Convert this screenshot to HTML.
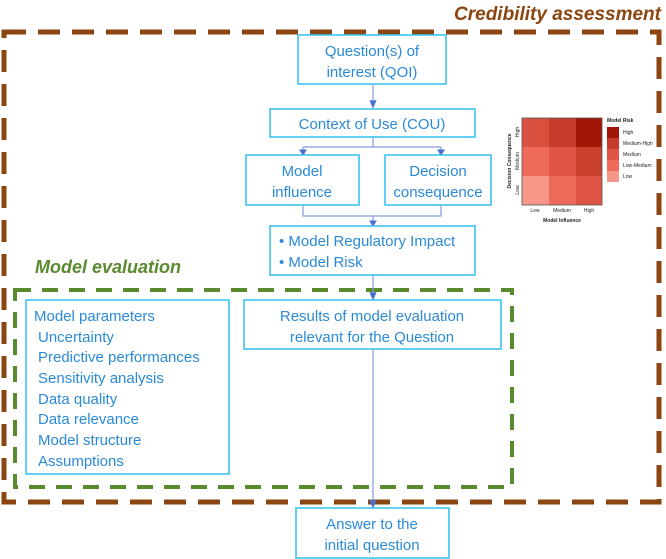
<!DOCTYPE html>
<html><head><meta charset="utf-8"><style>
html,body{margin:0;padding:0;background:#fff;width:666px;height:559px;overflow:hidden}
svg{display:block}
.t{font-family:"Liberation Sans",sans-serif;fill:#2a8ad8;font-size:15px}
.b{fill:#fff;stroke:#3cc3f0;stroke-width:1.6}
.s{font-family:"Liberation Sans",sans-serif;font-size:5px;fill:#222}
</style></head><body>
<svg width="666" height="559" viewBox="0 0 666 559" xmlns="http://www.w3.org/2000/svg">
<defs><marker id="a" markerWidth="8" markerHeight="8" refX="4" refY="4" orient="auto"><path d="M0,1 L7,4 L0,7Z" fill="#4a6fd0"/></marker></defs>
<text x="661" y="20" text-anchor="end" font-family="Liberation Sans,sans-serif" font-size="19" font-weight="bold" font-style="italic" fill="#8a4510">Credibility assessment</text>
<rect x="4" y="32" width="655" height="470" fill="none" stroke="#8a4510" stroke-width="5" stroke-dasharray="22,12"/>
<text x="35" y="273" font-family="Liberation Sans,sans-serif" font-size="18" font-weight="bold" font-style="italic" fill="#5a8a2e">Model evaluation</text>
<rect x="15" y="290" width="497" height="197" fill="none" stroke="#5a8a2e" stroke-width="4" stroke-dasharray="16,11"/>
<!-- connectors -->
<g stroke="#7d9de0" stroke-width="1.2" fill="none">
<line x1="373" y1="85" x2="373" y2="105" marker-end="url(#a)"/>
<path d="M373 137 V147 M303 147 H441 M303 147 V152 M441 147 V152"/>
<path d="M303 205 V216 H441 V205 M373 216 V222"/>
<line x1="373" y1="275" x2="373" y2="297" marker-end="url(#a)"/>
<line x1="373" y1="349" x2="373" y2="505" marker-end="url(#a)"/>
</g>
<g stroke="#4a6fd0" fill="#4a6fd0"><path d="M300 150 L306 150 L303 155Z M438 150 L444 150 L441 155Z M370 221 L376 221 L373 226Z"/></g>
<rect class="b" x="298" y="35" width="148" height="49"/>
<text class="t" x="372" y="56" text-anchor="middle">Question(s) of</text>
<text class="t" x="372" y="77" text-anchor="middle">interest (QOI)</text>
<rect class="b" x="270" y="109" width="205" height="28"/>
<text class="t" x="372" y="129" text-anchor="middle">Context of Use (COU)</text>
<rect class="b" x="246" y="155" width="113" height="50"/>
<text class="t" x="302" y="176" text-anchor="middle">Model</text>
<text class="t" x="302" y="197" text-anchor="middle">influence</text>
<rect class="b" x="385" y="155" width="106" height="50"/>
<text class="t" x="438" y="176" text-anchor="middle">Decision</text>
<text class="t" x="438" y="197" text-anchor="middle">consequence</text>
<rect class="b" x="270" y="226" width="205" height="49"/>
<text class="t" x="279" y="246">• Model Regulatory Impact</text>
<text class="t" x="279" y="267">• Model Risk</text>
<rect class="b" x="26" y="300" width="203" height="174"/>
<g class="t">
<text x="34" y="321">Model parameters</text>
<text x="38" y="342">Uncertainty</text>
<text x="38" y="362">Predictive performances</text>
<text x="38" y="383">Sensitivity analysis</text>
<text x="38" y="404">Data quality</text>
<text x="38" y="424">Data relevance</text>
<text x="38" y="445">Model structure</text>
<text x="38" y="466">Assumptions</text>
</g>
<rect class="b" x="244" y="300" width="257" height="49"/>
<text class="t" x="372" y="321" text-anchor="middle">Results of model evaluation</text>
<text class="t" x="372" y="342" text-anchor="middle">relevant for the Question</text>
<rect class="b" x="296" y="508" width="153" height="50"/>
<text class="t" x="372" y="529" text-anchor="middle">Answer to the</text>
<text class="t" x="372" y="550" text-anchor="middle">initial question</text>
<!-- heatmap -->
<g>
<rect x="522" y="118" width="27" height="29" fill="#d9503f"/>
<rect x="549" y="118" width="27" height="29" fill="#c73a2e"/>
<rect x="576" y="118" width="26" height="29" fill="#a01505"/>
<rect x="522" y="147" width="27" height="29" fill="#ee6b5c"/>
<rect x="549" y="147" width="27" height="29" fill="#df5444"/>
<rect x="576" y="147" width="26" height="29" fill="#c9402f"/>
<rect x="522" y="176" width="27" height="29" fill="#f7978a"/>
<rect x="549" y="176" width="27" height="29" fill="#ee6b5c"/>
<rect x="576" y="176" width="26" height="29" fill="#df5444"/>
<rect x="522" y="118" width="80" height="87" fill="none" stroke="#555" stroke-width="0.8"/>
<text class="s" x="535" y="212" text-anchor="middle">Low</text>
<text class="s" x="562" y="212" text-anchor="middle">Medium</text>
<text class="s" x="589" y="212" text-anchor="middle">High</text>
<text class="s" x="562" y="222" text-anchor="middle" font-weight="bold" font-size="6">Model Influence</text>
<text class="s" transform="translate(519,132) rotate(-90)" text-anchor="middle">High</text>
<text class="s" transform="translate(519,161) rotate(-90)" text-anchor="middle">Medium</text>
<text class="s" transform="translate(519,190) rotate(-90)" text-anchor="middle">Low</text>
<text class="s" transform="translate(511,161) rotate(-90)" text-anchor="middle" font-weight="bold" font-size="6">Decision Consequence</text>
<text class="s" x="607" y="122" font-weight="bold">Model Risk</text>
<rect x="607" y="127" width="12" height="11" fill="#a01505"/>
<rect x="607" y="138" width="12" height="11" fill="#c73a2e"/>
<rect x="607" y="149" width="12" height="11" fill="#df5444"/>
<rect x="607" y="160" width="12" height="11" fill="#ee6b5c"/>
<rect x="607" y="171" width="12" height="11" fill="#f7978a"/>
<text class="s" x="623" y="134">High</text>
<text class="s" x="623" y="145">Medium-High</text>
<text class="s" x="623" y="156">Medium</text>
<text class="s" x="623" y="167">Low-Medium</text>
<text class="s" x="623" y="178">Low</text>
</g>
</svg>
</body></html>
